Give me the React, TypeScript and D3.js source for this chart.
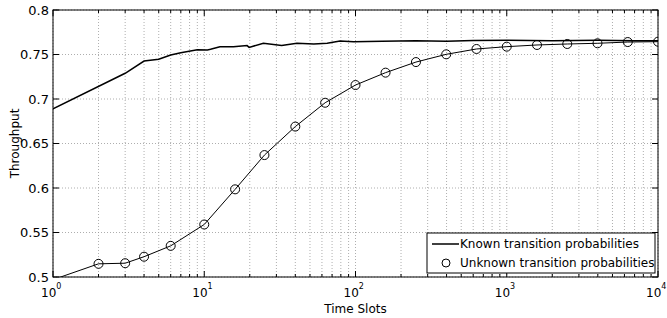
import { scaleLog, scaleLinear, line } from 'd3';

const width = 667;
const height = 318;
const margin = { left: 53, right: 9, top: 10, bottom: 41 };
const plotW = width - margin.left - margin.right;
const plotH = height - margin.top - margin.bottom;

// known transition probabilities (simulated, jagged)
const knownX = [1, 3, 4, 5, 6, 7, 9, 10.5, 11, 12.7, 15.6, 19.2, 19.8, 24.6, 32.5, 41, 53, 65, 79, 97, 150, 250, 400, 600, 1000, 2000, 4000, 7000, 10000];
const knownY = [0.689, 0.7289, 0.7427, 0.7446, 0.7494, 0.752, 0.7554, 0.755, 0.7558, 0.7588, 0.7588, 0.76, 0.758, 0.7626, 0.76, 0.7626, 0.7618, 0.7626, 0.7652, 0.7644, 0.765, 0.7655, 0.765, 0.7658, 0.766, 0.7655, 0.766, 0.7655, 0.7655];

// unknown transition probabilities
const unknownX = [1, 2, 3, 4, 6, 10, 16, 25, 40, 63, 100, 158, 251, 398, 631, 1000, 1585, 2512, 3981, 6310, 10000];
const unknownY = [0.497, 0.5148, 0.5155, 0.5228, 0.535, 0.559, 0.5985, 0.637, 0.669, 0.6958, 0.7157, 0.7296, 0.7415, 0.7502, 0.7562, 0.7588, 0.7607, 0.7618, 0.7626, 0.764, 0.7644];

const yTicks = [0.5, 0.55, 0.6, 0.65, 0.7, 0.75, 0.8];
const yTickLabels = ['0.5', '0.55', '0.6', '0.65', '0.7', '0.75', '0.8'];
const xExponents = [0, 1, 2, 3, 4];

const legendLabels = ['Known transition probabilities', 'Unknown transition probabilities'];

const font = 'DejaVu Sans, sans-serif';

const App = () => {
  const x = scaleLog().domain([1, 10000]).range([0, plotW]);
  const y = scaleLinear().domain([0.5, 0.8]).range([plotH, 0]);

  const knownPath = line<number>()
    .x((d, i) => x(knownX[i]))
    .y(d => y(d))(knownY);
  const unknownPath = line<number>()
    .x((d, i) => x(unknownX[i]))
    .y(d => y(d))(unknownY);

  const minorTicks = x.ticks();
  const majorTicks = xExponents.map(e => Math.pow(10, e));

  const lg = { x: 427 - margin.left, y: 233 - margin.top, w: 228, h: 40 };

  return (
    <svg width={width} height={height} style={{ position: 'absolute', left: 0, top: 0, background: '#fff' }}>
      <defs>
        <clipPath id="plotClip">
          <rect x={0} y={0} width={plotW} height={plotH} />
        </clipPath>
      </defs>
      <g transform={`translate(${margin.left},${margin.top})`} fontFamily={font}>
        {/* grid */}
        {minorTicks.map((t, i) => (
          <line key={'gx' + i} x1={x(t)} x2={x(t)} y1={0} y2={plotH} stroke="#999" strokeWidth={0.8} strokeDasharray="1,2" />
        ))}
        {yTicks.map((t, i) => (
          <line key={'gy' + i} x1={0} x2={plotW} y1={y(t)} y2={y(t)} stroke="#999" strokeWidth={0.8} strokeDasharray="1,2" />
        ))}

        {/* ticks */}
        {minorTicks.map((t, i) => {
          const major = majorTicks.includes(t);
          const len = major ? 6 : 3;
          return (
            <g key={'tx' + i}>
              <line x1={x(t)} x2={x(t)} y1={plotH} y2={plotH - len} stroke="#000" />
              <line x1={x(t)} x2={x(t)} y1={0} y2={len} stroke="#000" />
            </g>
          );
        })}
        {yTicks.map((t, i) => (
          <g key={'ty' + i}>
            <line x1={0} x2={6} y1={y(t)} y2={y(t)} stroke="#000" />
            <line x1={plotW} x2={plotW - 6} y1={y(t)} y2={y(t)} stroke="#000" />
          </g>
        ))}

        {/* series */}
        <g clipPath="url(#plotClip)">
          <path d={knownPath || ''} fill="none" stroke="#000" strokeWidth={1.5} />
          <path d={unknownPath || ''} fill="none" stroke="#000" strokeWidth={1} />
          {unknownX.map((d, i) => (d > 1 ?
            <circle key={'m' + i} cx={x(d)} cy={y(unknownY[i])} r={4.5} fill="none" stroke="#000" strokeWidth={1} />
            : null))}
        </g>

        {/* box */}
        <rect x={0} y={0} width={plotW} height={plotH} fill="none" stroke="#000" strokeWidth={1} />

        {/* y tick labels */}
        {yTicks.map((t, i) => (
          <text key={'ly' + i} x={-4} y={y(t)} dy="0.35em" textAnchor="end" fontSize={13}>{yTickLabels[i]}</text>
        ))}

        {/* x tick labels */}
        {xExponents.map((e, i) => (
          <text key={'lx' + i} x={x(Math.pow(10, e)) - 12} y={plotH + 20} fontSize={12}>
            10<tspan dy={-8} fontSize={8}>{e}</tspan>
          </text>
        ))}

        {/* axis labels */}
        <text x={plotW / 2} y={plotH + 36} textAnchor="middle" fontSize={12}>Time Slots</text>
        <text transform={`translate(${-34},${plotH / 2}) rotate(-90)`} textAnchor="middle" fontSize={12}>Throughput</text>

        {/* legend */}
        <g transform={`translate(${lg.x},${lg.y})`}>
          <rect x={0} y={0} width={lg.w} height={lg.h} fill="#fff" stroke="#000" strokeWidth={1} />
          <line x1={5} x2={32} y1={11} y2={11} stroke="#000" strokeWidth={1.5} />
          <text x={33} y={11} dy="0.35em" fontSize={12}>{legendLabels[0]}</text>
          <circle cx={19} cy={30} r={4} fill="none" stroke="#000" />
          <text x={33} y={30} dy="0.35em" fontSize={12}>{legendLabels[1]}</text>
        </g>
      </g>
    </svg>
  );
};

export default App;
